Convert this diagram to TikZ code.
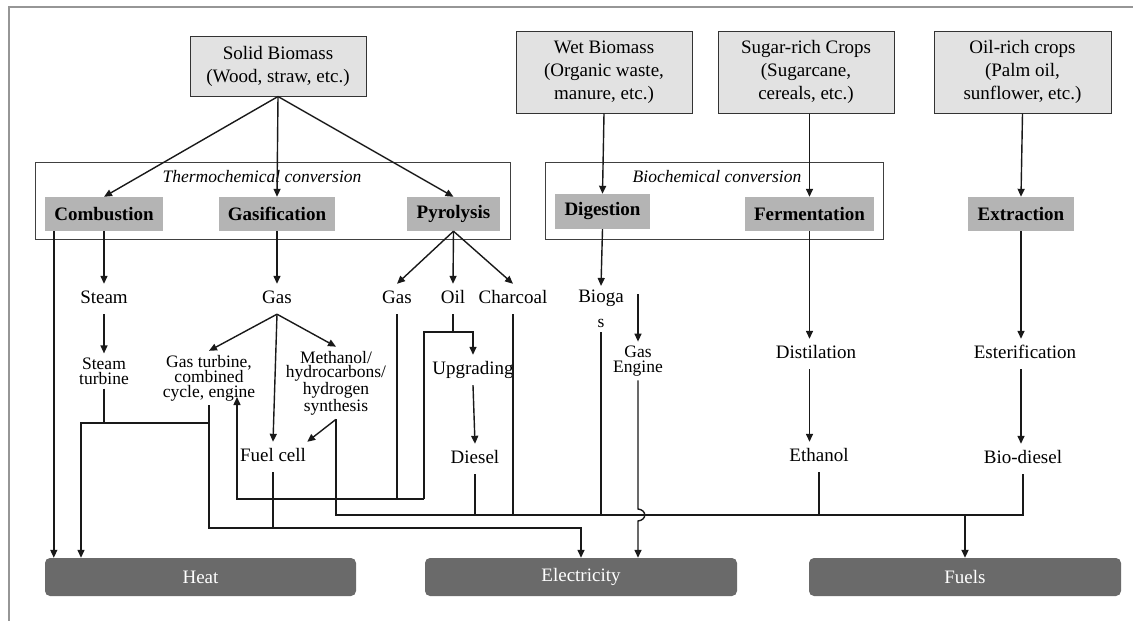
\documentclass[tikz,border=0pt]{standalone}
\usepackage{fontspec}
\setmainfont{Liberation Serif}
\usetikzlibrary{arrows.meta}
\definecolor{srcgray}{RGB}{226,226,226}
\definecolor{procgray}{RGB}{180,180,180}
\definecolor{sinkgray}{RGB}{106,106,106}
\definecolor{edgegray}{RGB}{150,150,150}
\begin{document}
\begin{tikzpicture}[
    x=1pt, y=-1pt,
    srcbox/.style={draw=black!80, fill=srcgray, line width=1pt, align=center, inner sep=0pt,
        font=\fontsize{19}{23}\selectfont},
    groupbox/.style={draw=black!75, line width=1pt, inner sep=0pt},
    grouplbl/.style={inner sep=0pt, font=\fontsize{17.5}{20}\selectfont\itshape},
    procbox/.style={fill=procgray, inner sep=0pt, minimum height=34pt,
        font=\fontsize{19}{22}\selectfont\bfseries},
    txt/.style={inner xsep=1pt, inner ysep=6pt, text height=13.5pt, text depth=4.5pt,
        font=\fontsize{19}{22}\selectfont},
    mtxt/.style={inner xsep=1pt, inner ysep=4pt, align=center,
        font=\fontsize{17.5}{#1}\selectfont},
    sinkbox/.style={fill=sinkgray, rounded corners=5pt, text=white, inner sep=0pt,
        minimum height=38pt, font=\fontsize{19}{22}\selectfont},
    line/.style={draw=black!90, line width=1.4pt},
    arr/.style={line, -{Triangle[length=8pt,width=7pt]}}
]
\useasboundingbox (0,0) rectangle (1133,621);
\draw[edgegray, line width=2pt] (9,621) -- (9,7) -- (1133,7);

\node[srcbox, minimum width=176pt, minimum height=60pt] (solid) at (278,66)
    {Solid Biomass\\(Wood, straw, etc.)};
\node[srcbox, minimum width=176pt, minimum height=82pt] (wet) at (604,72)
    {Wet Biomass\\(Organic waste,\\manure, etc.)};
\node[srcbox, minimum width=176pt, minimum height=82pt] (sugar) at (806,72)
    {Sugar-rich Crops\\(Sugarcane,\\cereals, etc.)};
\node[srcbox, minimum width=177pt, minimum height=82pt] (oilcrop) at (1022.5,72)
    {Oil-rich crops\\(Palm oil,\\sunflower, etc.)};

\node[groupbox, minimum width=475pt, minimum height=77pt] (thermo) at (272.5,200.5) {};
\node[groupbox, minimum width=338pt, minimum height=77pt] (biochem) at (714,200.5) {};
\node[grouplbl] (thermolbl) at (262,177) {Thermochemical conversion};
\node[grouplbl] (biochemlbl) at (717,177) {Biochemical conversion};

\node[procbox, minimum width=118pt] (combustion) at (104,214) {Combustion};
\node[procbox, minimum width=116pt] (gasification) at (277,214) {Gasification};
\node[procbox, minimum width=93pt] (pyrolysis) at (453.5,214) {Pyrolysis};
\node[procbox, minimum width=95pt, minimum height=35pt] (digestion) at (602.5,211.5) {Digestion};
\node[procbox, minimum width=129pt] (fermentation) at (809.5,214) {Fermentation};
\node[procbox, minimum width=106pt] (extraction) at (1021,214) {Extraction};

\node[txt] (steam) at (104,299) {Steam};
\node[txt] (gas) at (277,299) {Gas};
\node[txt] (pgas) at (397,299) {Gas};
\node[txt] (oil) at (453,299) {Oil};
\node[txt] (charcoal) at (513,299) {Charcoal};
\node[mtxt=25] (bioga) at (601,309) {\fontsize{19}{25}\selectfont Bioga\\s};
\node[mtxt=15] (gasengine) at (638,361) {Gas\\Engine};
\node[mtxt=15] (stturbine) at (104,371) {Steam\\turbine};
\node[mtxt=15] (gasturbine) at (209,378) {Gas turbine,\\combined\\cycle, engine};
\node[mtxt=14.5] (methanol) at (336,383) {Methanol/\\hydrocarbons/\\hydrogen\\synthesis};
\node[txt] (upgrading) at (473,370) {Upgrading};
\node[txt] (fuelcell) at (273,457) {Fuel cell};
\node[txt] (diesel) at (475,459) {Diesel};
\node[txt] (distilation) at (816,354) {Distilation};
\node[txt] (ethanol) at (819,457) {Ethanol};
\node[txt] (esterification) at (1025,354) {Esterification};
\node[txt] (biodiesel) at (1023,459) {Bio-diesel};

\node[sinkbox, minimum width=311pt] (heat) at (200.5,577) {Heat};
\node[sinkbox, minimum width=312pt] (electricity) at (581,577) {Electricity};
\node[sinkbox, minimum width=312pt] (fuels) at (965,577) {Fuels};

\coordinate (oiljoin) at (453,332);
\coordinate (loopnw) at (424,332);
\coordinate (gasjoin) at (424,499);
\coordinate (gtin) at (237,397);
\coordinate (heatbus) at (81,423);
\coordinate (elecbus) at (209,528);
\coordinate (fuelbus) at (336,515);
\coordinate (biogatap) at (638,294);

\draw[arr] (solid.south) -- (combustion.north);
\draw[arr] (solid.south) -- (gasification.north);
\draw[arr] (solid.south) -- (pyrolysis.north);
\draw[arr] (wet.south) -- (digestion.north);
\draw[arr] (fermentation.north |- sugar.south) -- (fermentation.north);
\draw[arr] (oilcrop.south) -- (extraction.north);

\draw[arr] ([xshift=9pt]combustion.south west) -- ([xshift=9pt]heat.north west);
\draw[arr] (combustion.south) -- (steam.north);
\draw[arr] (gasification.south) -- (gas.north);
\draw[arr] (pyrolysis.south) -- (pgas.north);
\draw[arr] (pyrolysis.south) -- (oil.north);
\draw[arr] (pyrolysis.south) -- (charcoal.north);
\draw[arr] (digestion.south) -- (bioga.north);
\draw[arr] (biogatap) -- (gasengine.north);
\draw[arr] (fermentation.south) -- (fermentation.south |- distilation.north);
\draw[arr] (distilation.south -| fermentation) -- (ethanol.north -| fermentation);
\draw[arr] (extraction.south) -- (extraction.south |- esterification.north);
\draw[arr] (esterification.south -| extraction) -- (biodiesel.north -| extraction);

\draw[arr] (steam.south) -- (stturbine.north);
\draw[arr] (gas.south) -- (gasturbine.north);
\draw[arr] (gas.south) -- (fuelcell.north);
\draw[arr] (gas.south) -- (methanol.north);
\draw[arr] (methanol.south) -- (fuelcell.north east);

\draw[line] (oil.south) -- (oiljoin);
\draw[arr] (gasjoin) -- (loopnw) -| (upgrading.north);
\draw[arr] (gasjoin) -| (gtin);
\draw[line] (pgas.south) -- (pgas.south |- gasjoin);
\draw[arr] (upgrading.south) -- (diesel.north);

\draw[line] (stturbine.south) -- (stturbine.south |- heatbus);
\draw[arr] (gasturbine.south |- heatbus) -- (heatbus) -- (heatbus |- heat.north);
\draw[arr] (gasturbine.south) -- (elecbus) -| (electricity.north);
\draw[line] (fuelcell.south) -- (fuelcell.south |- elecbus);

\draw[line] (methanol.south) -- (fuelbus) -- (fuelbus -| ethanol.south);
\draw[arr, line width=1.9pt] (fuelbus -| ethanol.south) -| (fuels.north);
\draw[line] (diesel.south) -- (diesel.south |- fuelbus);
\draw[line] (charcoal.south) -- (charcoal.south |- fuelbus);
\draw[line] (bioga.south) -- (bioga.south |- fuelbus);
\draw[line] (ethanol.south) -- (ethanol.south |- fuelbus);
\draw[line] (biodiesel.south) -- (biodiesel.south |- fuelbus) -- (fuels.north |- fuelbus);
\draw[arr] (gasengine.south) -- ([yshift=6pt]gasengine.south |- fuelbus)
    .. controls +(9pt,-1pt) and +(9pt,1pt) .. ([yshift=-6pt]gasengine.south |- fuelbus)
    -- (gasengine.south |- electricity.north);
\end{tikzpicture}
\end{document}
